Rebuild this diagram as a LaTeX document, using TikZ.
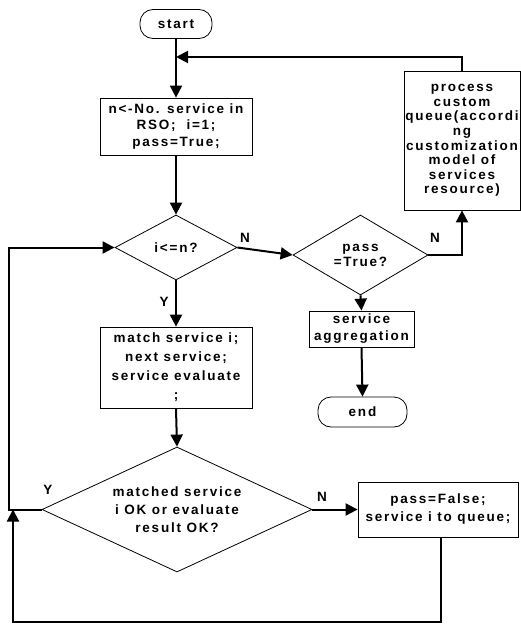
\documentclass[tikz,border=0pt]{standalone}
\usepackage{fontspec}
\setmainfont{Liberation Sans}[LetterSpace=13]
\usetikzlibrary{arrows.meta,shapes.geometric}
\newcommand{\fs}[1]{\fontsize{13.5}{#1}\selectfont\bfseries}
\begin{document}
\begin{tikzpicture}[x=1pt,y=-1pt,
  every node/.style={font=\fs{16}, inner sep=0pt, align=center},
  procbox/.style={draw, line width=0.8pt, rectangle},
  term/.style={draw, line width=0.8pt, rounded corners=13pt},
  decis/.style={draw, line width=0.8pt, diamond, inner sep=0pt},
  arr/.style={line width=2pt, -{Triangle[length=12pt,width=12pt]}},
  lbl/.style={font=\fs{16}}
]
\useasboundingbox (0,0) rectangle (521,626);

\node[term, minimum width=72pt, minimum height=29pt] (start) at (176,24) {start};
\node[procbox, minimum width=152pt, minimum height=57pt, font=\fs{16.5}] (box1) at (176,126.5)
  {n<-No. service in\\RSO;\ \ i=1;\\pass=True;};
\node[decis, minimum width=122pt, minimum height=65pt] (d1) at (176,247.5) {};
\node at (d1) {i<=n?};
\node[decis, minimum width=135pt, minimum height=80pt] (d2) at (360.5,255) {};
\node[font=\fs{15}] at (d2) {pass\\=True?};
\node[procbox, minimum width=116pt, minimum height=139pt, font=\fs{14.6}] (proc) at (462,140.5)
  {process\\custom\\queue(accordi\\ng\\customization\\model of\\services\\resource)};
\node[procbox, minimum width=105pt, minimum height=36pt, font=\fs{17}] (agg) at (361.5,329) {service\\aggregation};
\node[term, minimum width=89pt, minimum height=30pt] (end) at (362.5,412) {end};
\node[procbox, minimum width=152pt, minimum height=81pt, font=\fs{19}] (box2) at (176,367.5)
  {match service i;\\next service;\\service evaluate\\;};
\node[decis, minimum width=270pt, minimum height=125pt] (d3) at (177,509.5) {};
\node[font=\fs{18}] at (d3) {matched service\\i OK or evaluate\\result OK?};
\node[procbox, minimum width=160pt, minimum height=55pt, font=\fs{18}] (box3) at (438,509.5) {pass=False;\\service i to queue;};

\coordinate (fb) at (176,57);
\coordinate (ly) at (9,509.5);
\coordinate (bl1) at (441,622);
\coordinate (bl2) at (13,622);
\coordinate (bl3) at (13,509.5);

\draw[arr] (start) -- (box1);
\draw[arr] (box1) -- (d1);
\draw[arr] (proc.north) |- (fb);
\draw[arr] (d1.east) -- (d2.west);
\draw[arr] (d2.east) -| (proc.south);
\draw[arr] (d2.south) -- (agg.north);
\draw[arr] (agg.south) -- (end.north);
\draw[arr] (d1.south) -- (box2.north);
\draw[arr] (box2.south) -- (d3.north);
\draw[arr] (d3.east) -- (box3.west);
\draw[arr] (d3.west) -- (ly) |- (d1.west);
\draw[arr] (box3.south -| bl1) -- (bl1) -- (bl2) -- (bl3);

\node[lbl] (n1) at (245,238) {N};
\node[lbl] (n2) at (435,238) {N};
\node[lbl] (y1) at (164,302) {Y};
\node[lbl] (y2) at (48,490) {Y};
\node[lbl] (n3) at (322,497) {N};
\end{tikzpicture}
\end{document}
